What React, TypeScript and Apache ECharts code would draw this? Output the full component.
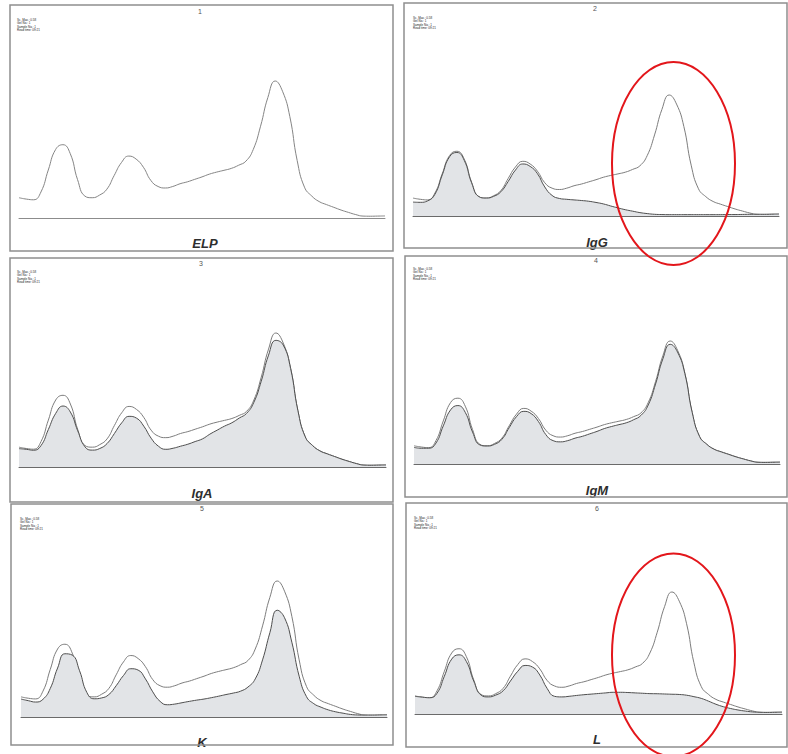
import { useEffect, useRef } from "react";
import * as echarts from "echarts";

// Normalised migration position (0 = start of trace, 100 = end of trace)
const X = [0, 2, 4, 6, 8, 10, 12, 14, 16, 18, 20, 22, 24, 26, 28, 30, 32, 34, 36, 38, 40, 42, 44, 46, 48, 50, 52, 54, 56, 58, 60, 62, 64, 66, 68, 70, 72, 74, 76, 78, 80, 82, 84, 86, 88, 90, 92, 94, 96, 98, 100];

// Reference electrophoresis trace (ELP), relative height (peak = 100)
const ELP = [14.8, 13.8, 13.3, 19, 35, 50, 53.5, 47, 28, 16, 14.8, 16.7, 21, 31, 40.5, 45.2, 43, 37, 27.5, 23, 21.9, 23, 25, 26.4, 28.2, 30, 32, 33.5, 34.8, 36.2, 38.5, 41.5, 50, 67, 88, 100, 92.5, 74, 42, 22.5, 16, 12, 9.8, 7.8, 5.8, 4.1, 2.5, 1.4, 1.3, 1.4, 1.5];

// Traces after immunosubtraction (shaded)
const IGG = [11.5, 11.3, 12.5, 18, 34, 49, 52.5, 46, 27.5, 16, 14.8, 16.2, 20, 28.5, 38, 43, 41, 35, 24, 17, 14.5, 13.8, 13.3, 12.8, 12.2, 11.2, 10, 8.3, 6.7, 5.2, 4, 2.8, 2, 1.4, 1.2, 1.1, 1.1, 1.1, 1.1, 1.1, 1.1, 1.1, 1.1, 1.2, 1.2, 1.3, 1.4, 1.4, 1.4, 1.5, 1.6];
const IGA = [13.7, 13.2, 12.5, 16, 28, 40, 45.5, 41, 27, 15, 12.6, 13.8, 17.5, 25, 33, 37.8, 36.5, 30.5, 21.5, 15.5, 13.2, 14, 15.5, 17, 19, 21, 24.5, 27.5, 30.5, 33, 36.5, 40, 48.3, 64, 83.5, 94.5, 91, 73.5, 42, 22.5, 16, 12, 9.8, 7.8, 5.8, 4.1, 2.5, 1.4, 1.3, 1.4, 1.5];
const IGM = [13.5, 12.8, 12.8, 17, 31, 44, 47.5, 42, 26, 15.5, 14.6, 16, 20, 29.5, 38.5, 42.8, 41, 34.5, 24, 19, 18, 19, 21, 22.5, 24.5, 26.5, 28.8, 30.5, 32, 33.5, 36, 39.5, 48, 65, 85.5, 97.3, 91, 73.5, 42, 22.5, 16, 12, 9.8, 7.8, 5.8, 4.1, 2.5, 1.4, 1.3, 1.4, 1.5];
const KAPPA = [13.2, 12, 11, 13, 21, 36, 46.5, 45.5, 34, 18, 13.4, 14, 16.5, 23, 30.5, 35.5, 34.5, 28, 18.5, 11.5, 9, 9.5, 10.5, 11.5, 12.4, 13.2, 14.2, 15.3, 16.5, 17.6, 19, 22, 28, 42, 62, 78.5, 73, 55, 30, 15, 9.8, 7.2, 5.2, 3.8, 2.8, 1.9, 1.5, 1.4, 1.4, 1.5, 1.6];
const LAMBDA = [14.5, 13.8, 13.3, 17, 31, 45, 48.5, 43, 27, 15.5, 14, 15.5, 19, 27, 35, 39.8, 38.5, 32, 21, 14.5, 14, 14.5, 15.2, 15.8, 16.3, 16.8, 17.3, 17.8, 17.8, 17.6, 17.3, 17, 16.7, 16.6, 16.4, 16.2, 16, 15.4, 14.2, 12.8, 10.5, 8, 6, 4.5, 3.3, 2.4, 1.7, 1.4, 1.3, 1.4, 1.5];

const PANEL_NUMBERS = ["1", "2", "3", "4", "5", "6"];
const PANEL_LABELS = ["ELP", "IgG", "IgA", "IgM", "K", "L"];
const PANEL_SHADED = [null, IGG, IGA, IGM, KAPPA, LAMBDA];
const HEADER_LINES = ["Sc. Max.: 0.58", "Gel No.: 1", "Sample No.: 1", "Read time: 09:21"];

// Layout (pixels)
const LAYOUT = [
  { grid: [19, 81, 366, 137], box: [10, 5, 383, 246], num: [200, 11], label: [205, 243], head: [17, 18] },
  { grid: [413, 95, 366, 121], box: [404, 3, 383, 245], num: [595, 8], label: [597, 242], head: [413, 16] },
  { grid: [19, 333, 367, 134], box: [10, 258, 383, 244], num: [201, 263], label: [202, 493], head: [17, 270] },
  { grid: [414, 341, 366, 123], box: [405, 256, 382, 241], num: [596, 260], label: [597, 490], head: [413, 267] },
  { grid: [21, 581, 366, 136], box: [11, 504, 382, 241], num: [202, 508], label: [202, 742], head: [20, 517] },
  { grid: [415, 592, 367, 122], box: [406, 503, 381, 244], num: [597, 508], label: [597, 739], head: [414, 516] },
];
const ELLIPSES = [
  [673.5, 163.5, 61.5, 101.5],
  [673.5, 655, 61.5, 101.5],
];

const pairs = (ys: number[]) => X.map((x, i) => [x, ys[i]]);

export default function App() {
  const ref = useRef<HTMLDivElement>(null);
  useEffect(() => {
    if (!ref.current) return;
    const chart = echarts.init(ref.current, null, { renderer: "svg" });
    const grids: any[] = [];
    const xAxes: any[] = [];
    const yAxes: any[] = [];
    const series: any[] = [];
    const graphic: any[] = [];
    LAYOUT.forEach((p, i) => {
      grids.push({ left: p.grid[0], top: p.grid[1], width: p.grid[2], height: p.grid[3] });
      xAxes.push({
        type: "value", gridIndex: i, min: 0, max: 100,
        axisLine: { show: true, lineStyle: { color: i === 0 ? "#8c8c8c" : "#6a6a6a", width: 1 } },
        axisTick: { show: false }, axisLabel: { show: false }, splitLine: { show: false },
      });
      yAxes.push({ type: "value", gridIndex: i, min: 0, max: 100, show: false, splitLine: { show: false } });
      series.push({
        type: "line", xAxisIndex: i, yAxisIndex: i, data: pairs(ELP), smooth: 0.5,
        showSymbol: false, symbol: "none", clip: false,
        lineStyle: { color: i === 0 ? "#858585" : "#7d7d7d", width: 1 }, z: 2,
      });
      const sh = PANEL_SHADED[i];
      if (sh) {
        series.push({
          type: "line", xAxisIndex: i, yAxisIndex: i, data: pairs(sh), smooth: 0.5,
          showSymbol: false, symbol: "none", clip: false,
          lineStyle: { color: "#4e4e4e", width: 1 },
          areaStyle: { color: "#e2e4e7", opacity: 1 }, z: 3,
        });
      }
      graphic.push({
        type: "rect", shape: { x: p.box[0], y: p.box[1], width: p.box[2], height: p.box[3] },
        style: { fill: "none", stroke: "#8f8f8f", lineWidth: 1.5 }, z: 1,
      });
      graphic.push({
        type: "text", x: p.num[0], y: p.num[1],
        style: { text: PANEL_NUMBERS[i], fill: "#555", font: '7px "Liberation Sans", Arial, sans-serif', textAlign: "center", textVerticalAlign: "middle", align: "center", verticalAlign: "middle" },
      });
      graphic.push({
        type: "text", x: p.label[0], y: p.label[1],
        style: { text: PANEL_LABELS[i], fill: "#2e2e2e", font: 'italic bold 13px "Liberation Sans", Arial, sans-serif', textAlign: "center", textVerticalAlign: "middle", align: "center", verticalAlign: "middle" },
      });
      graphic.push({
        type: "text", x: p.head[0], y: p.head[1],
        style: { text: HEADER_LINES.join("\n"), fill: "#222", font: '3px "Liberation Sans", Arial, sans-serif', lineHeight: 3.3, textAlign: "left", textVerticalAlign: "top", align: "left", verticalAlign: "top" },
      });
    });
    ELLIPSES.forEach((e) => {
      graphic.push({
        type: "ellipse", shape: { cx: e[0], cy: e[1], rx: e[2], ry: e[3] },
        style: { fill: "none", stroke: "#e3161b", lineWidth: 2 }, z: 100,
      });
    });
    chart.setOption({
      animation: false,
      backgroundColor: "#ffffff",
      grid: grids,
      xAxis: xAxes,
      yAxis: yAxes,
      series,
      graphic,
    });
    return () => chart.dispose();
  }, []);
  return <div ref={ref} style={{ position: "fixed", left: 0, top: 0, width: 788, height: 754 }} />;
}
